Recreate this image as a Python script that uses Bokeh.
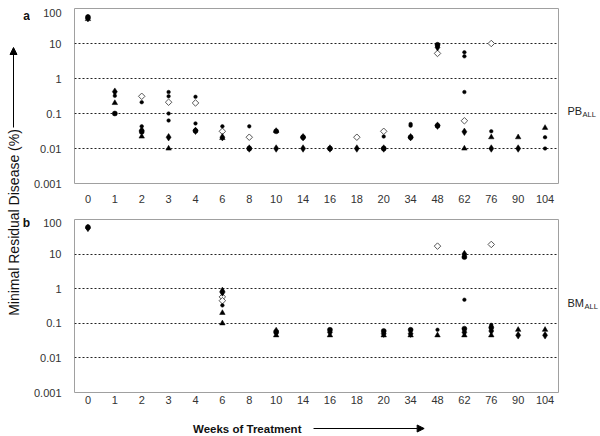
import math
from bokeh.plotting import figure
from bokeh.layouts import row, column
from bokeh.models import (FactorRange, Range1d, FixedTicker, CustomJSTickFormatter,
                          Label, Arrow, NormalHead)
from bokeh.embed import file_html
from bokeh.resources import INLINE

weeks = ["0", "1", "2", "3", "4", "6", "8", "10", "14", "16", "18", "20",
         "34", "48", "62", "76", "90", "104"]
y_ticks = [0.001, 0.01, 0.1, 1, 10, 100]
grid_levels = [0.01, 0.1, 1, 10]

# ---- panel a : PB_ALL ----
a_dot_wk = ["1", "2", "2", "3", "3", "3", "3", "4", "4", "6", "8", "20", "34", "34",
            "62", "62", "62", "76", "104", "104"]
a_dot_val = [0.32, 0.21, 0.043, 0.41, 0.31, 0.1, 0.063, 0.3, 0.052, 0.043, 0.043, 0.022,
             0.05, 0.045, 5.6, 4.3, 0.41, 0.031, 0.021, 0.01]
a_circle_wk = ["0", "1", "2", "4", "8", "10", "14", "16", "20", "34", "48", "48"]
a_circle_val = [57, 0.1, 0.03, 0.032, 0.01, 0.031, 0.021, 0.01, 0.01, 0.021, 9.2, 0.045]
a_diamond_wk = ["0", "1", "2", "3", "4", "6", "8", "10", "14", "14", "16", "18", "20",
                "34", "48", "48", "62", "76", "90"]
a_diamond_val = [53, 0.42, 0.033, 0.021, 0.032, 0.021, 0.01, 0.01, 0.021, 0.01, 0.01, 0.01,
                 0.01, 0.021, 7.8, 0.045, 0.03, 0.01, 0.01]
a_tri_wk = ["0", "1", "2", "3", "6", "10", "62", "76", "90", "104"]
a_tri_val = [50, 0.2, 0.022, 0.01, 0.02, 0.032, 0.01, 0.021, 0.021, 0.039]
a_odiam_wk = ["2", "3", "4", "6", "8", "18", "20", "48", "62", "76"]
a_odiam_val = [0.31, 0.21, 0.2, 0.031, 0.021, 0.021, 0.031, 5.2, 0.062, 10]

# ---- panel b : BM_ALL ----
b_dot_wk = ["6", "48", "62", "76"]
b_dot_val = [0.33, 0.065, 0.48, 0.09]
b_circle_wk = ["0", "10", "16", "20", "34", "62", "62", "76"]
b_circle_val = [60, 0.055, 0.065, 0.06, 0.065, 8.2, 0.07, 0.075]
b_diamond_wk = ["0", "6", "10", "16", "20", "34", "62", "62", "76", "90", "104"]
b_diamond_val = [57, 0.78, 0.06, 0.055, 0.05, 0.05, 10, 0.055, 0.06, 0.045, 0.045]
b_tri_wk = ["6", "6", "6", "10", "16", "20", "34", "48", "62", "76", "90", "104"]
b_tri_val = [0.9, 0.2, 0.1, 0.045, 0.045, 0.045, 0.045, 0.045, 0.045, 0.045, 0.065, 0.065]
b_odiam_wk = ["6", "6", "48", "76"]
b_odiam_val = [0.58, 0.45, 17, 19]

FONT = "Liberation Sans"

styles = {
    "dot": dict(marker="circle", size=3.6, fill_color="black", line_color="black", line_width=0.5),
    "circle": dict(marker="circle", size=5, fill_color="black", line_color="black", line_width=0.5),
    "diamond": dict(marker="diamond", size=7.5, fill_color="black", line_color="black", line_width=0.5),
    "tri": dict(marker="triangle", size=5.5, fill_color="black", line_color="black", line_width=0.5),
    "odiam": dict(marker="square", size=4.6, angle=math.pi / 4, fill_color="white",
                  line_color="#555555", line_width=1),
}


def strip(width, height, x0, x1, y0, y1, bl=0, br=0):
    s = figure(width=width, height=height, x_range=Range1d(x0, x1), y_range=Range1d(y1, y0),
               x_axis_type=None, y_axis_type=None, output_backend="svg", toolbar_location=None,
               min_border=0, min_border_left=bl, min_border_right=br, min_border_top=0,
               min_border_bottom=0)
    s.outline_line_color = None
    s.xgrid.visible = False
    s.ygrid.visible = False
    return s


def make_panel(series, height, border_top, border_bottom, standoff):
    p = figure(width=530, height=height, x_range=FactorRange(factors=weeks, range_padding=0),
               y_range=Range1d(0.001, 100), y_axis_type="log",
               output_backend="svg", toolbar_location=None,
               min_border_left=38, min_border_right=2,
               min_border_top=border_top, min_border_bottom=border_bottom)
    p.outline_line_color = "#a0a0a0"
    p.outline_line_width = 1
    p.xgrid.grid_line_color = None
    p.ygrid.ticker = FixedTicker(ticks=grid_levels)
    p.ygrid.grid_line_color = "#222222"
    p.ygrid.grid_line_dash = "2 2"
    p.ygrid.grid_line_width = 1
    p.yaxis.ticker = FixedTicker(ticks=y_ticks)
    p.yaxis.formatter = CustomJSTickFormatter(
        code="return tick >= 99 ? '\\n' + String(tick) : String(tick);")
    for ax in (p.xaxis[0], p.yaxis[0]):
        ax.axis_line_color = None
        ax.major_tick_line_color = None
        ax.minor_tick_line_color = None
        ax.major_label_text_font = FONT
        ax.major_label_text_font_size = "11px"
        ax.major_label_text_color = "#333333"
    p.yaxis.major_label_text_line_height = 0.55
    p.yaxis.major_label_standoff = 7
    p.xaxis.major_label_standoff = standoff
    for kind, (wk, val) in series.items():
        p.scatter(x=wk, y=val, **styles[kind])
    return p


pa = make_panel({"odiam": (a_odiam_wk, a_odiam_val), "dot": (a_dot_wk, a_dot_val),
                 "circle": (a_circle_wk, a_circle_val), "diamond": (a_diamond_wk, a_diamond_val),
                 "tri": (a_tri_wk, a_tri_val)}, 208, 8, 25, 5)
pb = make_panel({"odiam": (b_odiam_wk, b_odiam_val), "dot": (b_dot_wk, b_dot_val),
                 "circle": (b_circle_wk, b_circle_val), "diamond": (b_diamond_wk, b_diamond_val),
                 "tri": (b_tri_wk, b_tri_val)}, 202, 11, 18, -3)

# bottom strip: x-axis title with arrow (page coordinates; frame spans page x 68..558)
pbot = strip(530, 26, 68, 558, 410, 436, bl=38, br=2)
pbot.add_layout(Label(x=188, y=428, text="Weeks of Treatment", text_font=FONT,
                      text_font_size="11.5px", text_font_style="bold", text_align="left",
                      text_baseline="middle", text_color="#111111"))
pbot.add_layout(Arrow(x_start=310, y_start=428, x_end=422, y_end=428, line_color="black",
                      line_width=1, end=NormalHead(size=7, fill_color="black", line_color="black")))

# left strip: shared y-axis title with arrow, panel letters
pleft = strip(30, 436, 0, 30, 0, 436)
pleft.add_layout(Label(x=13, y=222, text="Minimal Residual Disease (%)", angle=math.pi / 2,
                       text_font=FONT, text_font_size="14px", text_align="center",
                       text_baseline="middle", text_color="#111111"))
pleft.add_layout(Arrow(x_start=13, y_start=127, x_end=13, y_end=47, line_color="black",
                       line_width=1, end=NormalHead(size=7, fill_color="black", line_color="black")))
for letter, ly in (("a", 15), ("b", 222)):
    pleft.add_layout(Label(x=26, y=ly, text=letter, text_font=FONT, text_font_size="12px",
                           text_font_style="bold", text_align="center", text_baseline="middle",
                           text_color="#111111"))

# right strip: compartment tags
pright = strip(40, 436, 560, 600, 0, 436)
for tag, ty in (("PB", 110), ("BM", 302)):
    pright.add_layout(Label(x=567, y=ty, text=tag, text_font=FONT, text_font_size="11px",
                            text_align="left", text_baseline="middle", text_color="#222222"))
    pright.add_layout(Label(x=582 if tag == "PB" else 584, y=ty + 4, text="ALL", text_font=FONT,
                            text_font_size="7.5px", text_align="left", text_baseline="middle",
                            text_color="#222222"))

layout = row(pleft, column(pa, pb, pbot), pright)
open("out.html", "w").write(file_html(layout, INLINE))
